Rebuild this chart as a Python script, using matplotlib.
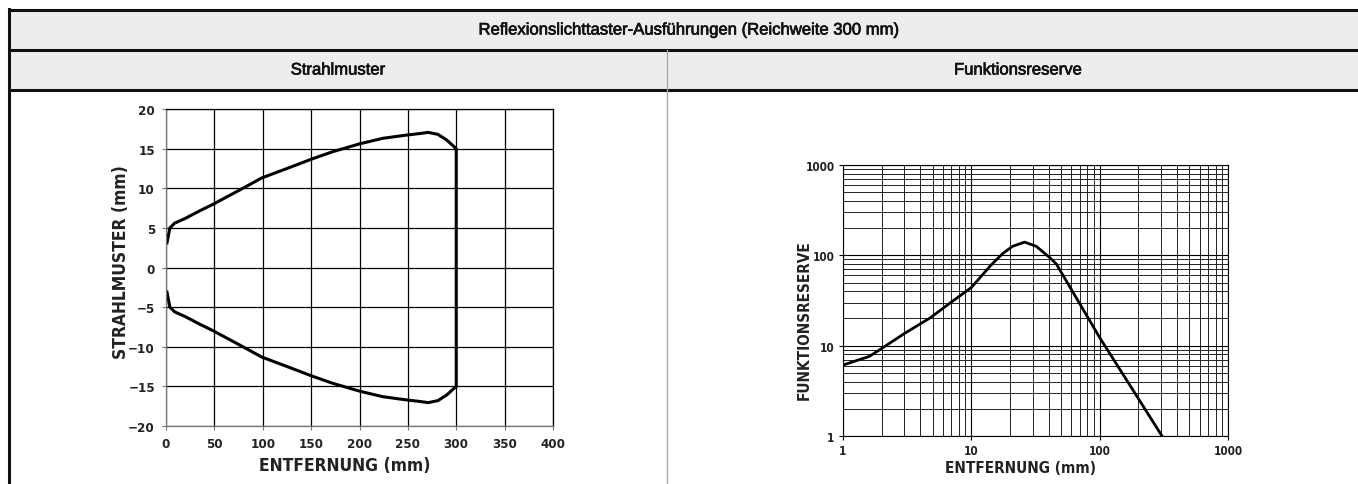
import numpy as np
import matplotlib
matplotlib.use("Agg")
import matplotlib.pyplot as plt
import matplotlib.patheffects as pe
from matplotlib.patches import Rectangle
from matplotlib.ticker import LogLocator, FixedLocator, NullFormatter

# Strahlmuster (upper half of beam pattern, lower half is mirrored)
beam_x = [1, 4, 9, 20, 34, 49, 78, 99, 123, 151, 172, 200, 224, 248, 262, 271, 281, 290, 300]
beam_y = [3.1, 5.0, 5.6, 6.2, 7.1, 8.0, 9.9, 11.3, 12.4, 13.7, 14.6, 15.6, 16.3, 16.7, 16.9, 17.05, 16.8, 16.1, 15.0]

# Funktionsreserve vs. Entfernung
dist = [1, 1.6, 2, 3, 4.8, 6.9, 10, 14, 17.6, 21, 26, 32, 41, 46, 100, 200, 306]
reserve = [6.1, 7.6, 9.3, 13.6, 20.4, 30, 44, 76, 105, 126, 140, 126, 94, 80, 12.3, 2.6, 1.0]

left_xticks = [0, 50, 100, 150, 200, 250, 300, 350, 400]
left_yticks = [20, 15, 10, 5, 0, -5, -10, -15, -20]
log_ticks = [1, 10, 100, 1000]

header = "Reflexionslichttaster-Ausführungen (Reichweite 300 mm)"
col_titles = ["Strahlmuster", "Funktionsreserve"]

W, H = 1358, 485
plain = ['Liberation Sans', 'DejaVu Sans']
cond = dict(family='DejaVu Sans', fontstretch='condensed', fontweight='bold')

fig = plt.figure(figsize=(W / 100, H / 100), dpi=100)

# table frame drawn in pixel coordinates
bg = fig.add_axes([0, 0, 1, 1], zorder=0)
bg.set_xlim(0, W)
bg.set_ylim(H, 0)
bg.axis('off')
bg.add_patch(Rectangle((9, 11), W, 80, facecolor='#ededed', edgecolor='none'))
for yy in [11, 51, 91]:
    bg.plot([9, W], [yy, yy], color='#111111', lw=2.2, solid_capstyle='butt')
bg.plot([9, 9], [10, H], color='#111111', lw=2.2)
bg.plot([666.5, 666.5], [51, H], color='#aaaaaa', lw=1)
thick = [pe.withStroke(linewidth=0.5, foreground='#111111')]
bg.text(689, 31, header, ha='center', va='center', fontsize=12, family=plain,
        color='#111111', path_effects=thick)
bg.text(338, 71, col_titles[0], ha='center', va='center', fontsize=12, family=plain,
        color='#111111', path_effects=thick)
bg.text(1018, 71, col_titles[1], ha='center', va='center', fontsize=12, family=plain,
        color='#111111', path_effects=thick)

# left chart
ax1 = fig.add_axes([166 / W, (H - 427) / H, (553 - 166) / W, (427 - 110) / H], zorder=1)
bx = np.array(beam_x)
by = np.array(beam_y)
px = np.concatenate([bx, bx[::-1]])
py = np.concatenate([by, -by[::-1]])
ax1.plot(px, py, color='black', lw=2.2, solid_joinstyle='round')
ax1.set_xlim(0, 400)
ax1.set_ylim(-20, 20)
ax1.set_xticks(left_xticks)
ax1.set_yticks(left_yticks)
ax1.set_xticklabels([str(v) for v in left_xticks])
ax1.set_yticklabels([str(v).replace('-', '\u2212') for v in left_yticks])
ax1.grid(True, color='black', lw=0.9)
for s in ax1.spines.values():
    s.set_color('black')
    s.set_linewidth(0.9)
ax1.spines['left'].set_color('#777777')
ax1.spines['bottom'].set_color('#777777')
ax1.tick_params(length=3, width=0.8, color='#777777', labelsize=9.5, pad=5, labelcolor='#222222')
for lab in ax1.get_xticklabels() + ax1.get_yticklabels():
    lab.set(**cond)
ax1.set_xlabel("ENTFERNUNG (mm)", fontsize=12.5, color='#222222', **cond)
ax1.set_ylabel("STRAHLMUSTER (mm)", fontsize=12.5, color='#222222', **cond)
ax1.xaxis.set_label_coords(0.463, -0.095)
ax1.yaxis.set_label_coords(-0.092, 0.52)

# right chart
ax2 = fig.add_axes([843 / W, (H - 437) / H, (1228 - 843) / W, (437 - 166) / H], zorder=1)
ax2.plot(dist, reserve, color='black', lw=2.0)
ax2.set_xscale('log')
ax2.set_yscale('log')
ax2.set_xlim(1, 1000)
ax2.set_ylim(1, 1000)
ax2.xaxis.set_major_locator(FixedLocator(log_ticks))
ax2.yaxis.set_major_locator(FixedLocator(log_ticks))
ax2.xaxis.set_minor_locator(LogLocator(base=10, subs=np.arange(2, 10)))
ax2.yaxis.set_minor_locator(LogLocator(base=10, subs=np.arange(2, 10)))
ax2.xaxis.set_minor_formatter(NullFormatter())
ax2.yaxis.set_minor_formatter(NullFormatter())
ax2.set_xticklabels([str(v) for v in log_ticks])
ax2.set_yticklabels([str(v) for v in log_ticks])
ax2.grid(True, which='major', color='black', lw=0.8)
ax2.grid(True, which='minor', color='#222222', lw=0.7)
for s in ax2.spines.values():
    s.set_color('black')
    s.set_linewidth(0.8)
ax2.tick_params(which='major', length=3, width=0.8, labelsize=8.5, pad=3, labelcolor='#222222')
ax2.tick_params(which='minor', length=0)
for lab in ax2.get_xticklabels() + ax2.get_yticklabels():
    lab.set(**cond)
ax2.set_xlabel("ENTFERNUNG (mm)", fontsize=11, color='#222222', **cond)
ax2.set_ylabel("FUNKTIONSRESERVE", fontsize=11, color='#222222', **cond)
ax2.xaxis.set_label_coords(0.462, -0.088)
ax2.yaxis.set_label_coords(-0.08, 0.43)

fig.savefig("out.png", dpi=100)
